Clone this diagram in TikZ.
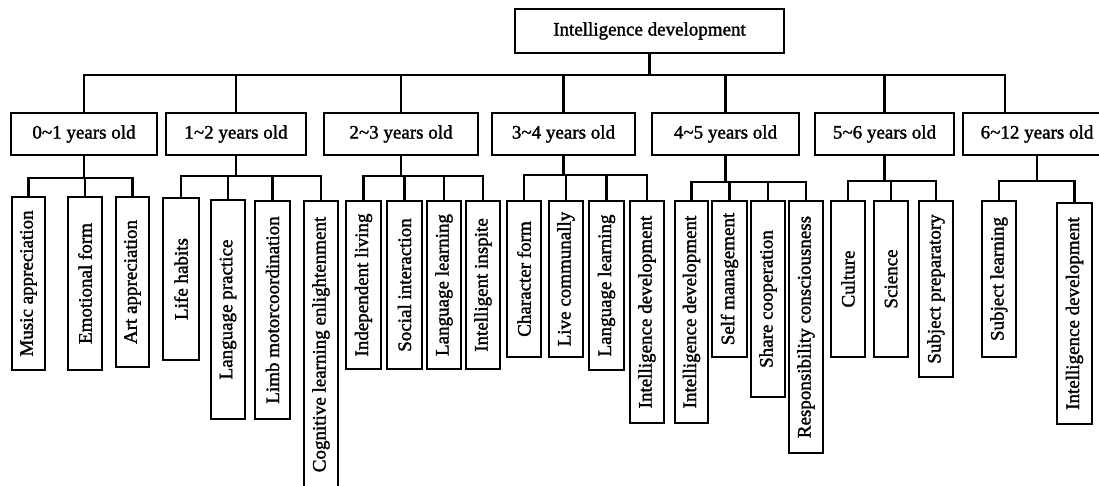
\documentclass[tikz,border=0pt]{standalone}
\usepackage{fontspec}
\setmainfont{Liberation Serif}
\newfontfamily\heavy{Liberation Serif}[RawFeature={embolden=1.6}]
\newcommand\mkbox[6]{%
  \node[box, minimum width={(#3-#2)*1pt}, minimum height={(#5-#4)*1pt}] (#1) at ({(#2+#3)/2},{(#4+#5)/2}) {#6};}
\newcommand\mkleaf[6]{%
  \node[leaf, minimum width={(#5-#4)*1pt}, minimum height={(#3-#2)*1pt}] (#1) at ({(#2+#3)/2},{(#4+#5)/2}) {#6};}
\begin{document}
\begin{tikzpicture}[x=1pt,y=-1pt,
  line width=2.6pt,
  box/.style={draw, line width=2.6pt, inner sep=0pt, font=\heavy\fontsize{19}{19}\selectfont},
  leaf/.style={box, rotate=90},
  conn/.style={draw, line width=2.6pt}]
\useasboundingbox (0,0) rectangle (1099,485);
% root
\mkbox{top}{515}{784}{9}{53}{Intelligence development}
% level 2
\mkbox{b01}{11}{157}{113}{155}{0\char`\~1 years old}
\mkbox{b12}{166}{306}{113}{155}{1\char`\~2 years old}
\mkbox{b23}{324}{478}{113}{155}{2\char`\~3 years old}
\mkbox{b34}{492}{635}{113}{155}{3\char`\~4 years old}
\mkbox{b45}{652}{799}{113}{155}{4\char`\~5 years old}
\mkbox{b56}{815}{954}{113}{155}{5\char`\~6 years old}
\mkbox{b612}{963}{1111}{113}{155}{6\char`\~12 years old}
% leaves 0~1
\mkleaf{l1a}{12}{45}{197}{370}{Music appreciation}
\mkleaf{l1b}{68}{102}{197}{370}{Emotional form}
\mkleaf{l1c}{116}{149}{197}{367}{Art appreciation}
% 1~2
\mkleaf{l2a}{163}{199}{198}{360}{Life habits}
\mkleaf{l2b}{211}{245}{200}{419}{Language practice}
\mkleaf{l2c}{255}{290}{201}{419}{Limb motorcoordination}
\mkleaf{l2d}{304}{338}{201}{488}{Cognitive learning enlightenment}
% 2~3
\mkleaf{l3a}{346}{381}{201}{369}{Independent living}
\mkleaf{l3b}{387}{422}{201}{369}{Social interaction}
\mkleaf{l3c}{427}{461}{201}{369}{Language learning}
\mkleaf{l3d}{466}{500}{201}{369}{Intelligent inspite}
% 3~4
\mkleaf{l4a}{507}{541}{201}{357}{Character form}
\mkleaf{l4b}{549}{583}{201}{357}{Live communally}
\mkleaf{l4c}{589}{624}{201}{370}{Language learning}
\mkleaf{l4d}{630}{664}{201}{423}{Intelligence development}
% 4~5
\mkleaf{l5a}{675}{708}{201}{423}{Intelligence development}
\mkleaf{l5b}{712}{747}{201}{357}{Self management}
\mkleaf{l5c}{751}{785}{201}{397}{Share cooperation}
\mkleaf{l5d}{789}{823}{201}{453}{Responsibility consciousness}
% 5~6
\mkleaf{l6a}{831}{865}{201}{357}{Culture}
\mkleaf{l6b}{874}{908}{201}{357}{Science}
\mkleaf{l6c}{919}{953}{201}{377}{Subject preparatory}
% 6~12
\mkleaf{l7a}{982}{1016}{201}{357}{Subject learning}
\mkleaf{l7b}{1057}{1092}{203}{424}{Intelligence development}
% bus coordinates
\coordinate (busT) at (0,75);
\coordinate (b612in) at (1005,113);
\coordinate (bus1) at (0,178);
\coordinate (bus2) at (0,176);
\coordinate (bus3) at (0,176);
\coordinate (bus4) at (0,175);
\coordinate (bus5) at (0,182);
\coordinate (bus6) at (0,181);
\coordinate (bus7) at (0,181);
% root connectors
\foreach \c in {b01,b12,b23,b34,b45,b56}
  \draw[conn] (top.south) -- (top.south |- busT) -| (\c.north);
\draw[conn] (top.south) -- (top.south |- busT) -| (b612in);
% group connectors
\foreach \c in {l1a,l1b,l1c} \draw[conn] (b01.south) -- (b01.south |- bus1) -| (\c.east);
\foreach \c in {l2a,l2b,l2c,l2d} \draw[conn] (b12.south) -- (b12.south |- bus2) -| (\c.east);
\foreach \c in {l3a,l3b,l3c,l3d} \draw[conn] (b23.south) -- (b23.south |- bus3) -| (\c.east);
\foreach \c in {l4a,l4b,l4c,l4d} \draw[conn] (b34.south) -- (b34.south |- bus4) -| (\c.east);
\foreach \c in {l5a,l5b,l5c,l5d} \draw[conn] (b45.south) -- (b45.south |- bus5) -| (\c.east);
\foreach \c in {l6a,l6b,l6c} \draw[conn] (b56.south) -- (b56.south |- bus6) -| (\c.east);
\foreach \c in {l7a,l7b} \draw[conn] (b612.south) -- (b612.south |- bus7) -| (\c.east);
\end{tikzpicture}
\end{document}
